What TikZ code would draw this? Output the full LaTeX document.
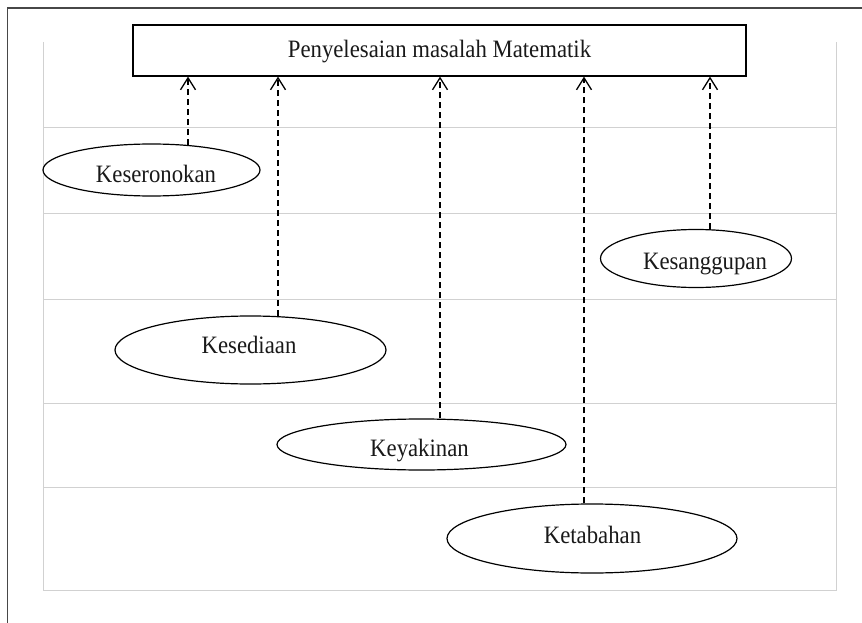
\documentclass[tikz,border=0pt]{standalone}
\usepackage{fontspec}
\setmainfont{Liberation Serif}[FakeStretch=0.91]
\usetikzlibrary{shapes.geometric,arrows.meta}
\begin{document}
\begin{tikzpicture}[x=1pt,y=-1pt,
  gridline/.style={draw=black!18, line width=1pt},
  frameline/.style={draw=black!72, line width=1.5pt},
  goalbox/.style={draw, line width=1.2pt, inner sep=0pt, minimum width=613pt, minimum height=51pt},
  ell/.style={ellipse, draw, line width=1.2pt, inner sep=0pt},
  lbl/.style={anchor=base, inner sep=0pt, text=black!90, font=\fontsize{25}{30}\selectfont},
  conn/.style={draw, line width=1.2pt, dash pattern=on 6pt off 4pt, -{Straight Barb[length=12pt,width=15pt,line width=1.3pt]}}]
\useasboundingbox (0,0) rectangle (862,623);
% background grid
\draw[gridline] (43,42) -- (43,590) -- (836,590) -- (836,42);
\foreach \yy in {128,213,299,403,487} \draw[gridline] (43,\yy) -- (836,\yy);
% outer frame
\draw[frameline] (862,8) -- (7.5,8) -- (7.5,623);
% goal box
\node[goalbox] (goal) at (439.5,50.5) {};
\node[lbl] (goaltxt) at (439.5,57.7) {Penyelesaian masalah Matematik};
% ellipses
\node[ell, minimum width=217pt, minimum height=52pt] (e1) at (151.5,170) {};
\node[lbl] (t1) at (156,182.7) {Keseronokan};
\node[ell, minimum width=271pt, minimum height=68pt] (e2) at (250.5,350) {};
\node[lbl] (t2) at (249,353.3) {Kesediaan};
\node[ell, minimum width=289pt, minimum height=51pt] (e3) at (421.5,444.5) {};
\node[lbl] (t3) at (419.5,456.7) {Keyakinan};
\node[ell, minimum width=290pt, minimum height=69pt] (e4) at (592,538.5) {};
\node[lbl] (t4) at (592.5,543.3) {Ketabahan};
\node[ell, minimum width=191pt, minimum height=58pt] (e5) at (696,258.5) {};
\node[lbl] (t5) at (705,269.3) {Kesanggupan};
% connector x positions
\coordinate (x1) at (188,0);
\coordinate (x2) at (278,0);
\coordinate (x3) at (440,0);
\coordinate (x4) at (584,0);
\coordinate (x5) at (710,0);
\draw[conn] (e1.33.4 -| x1) -- (goal.south -| x1);
\draw[conn] (e2.49.9 -| x2) -- (goal.south -| x2);
\draw[conn] (e3.north -| x3) -- (goal.south -| x3);
\draw[conn] (e4.north -| x4) -- (goal.south -| x4);
\draw[conn] (e5.north -| x5) -- (goal.south -| x5);
\end{tikzpicture}
\end{document}
